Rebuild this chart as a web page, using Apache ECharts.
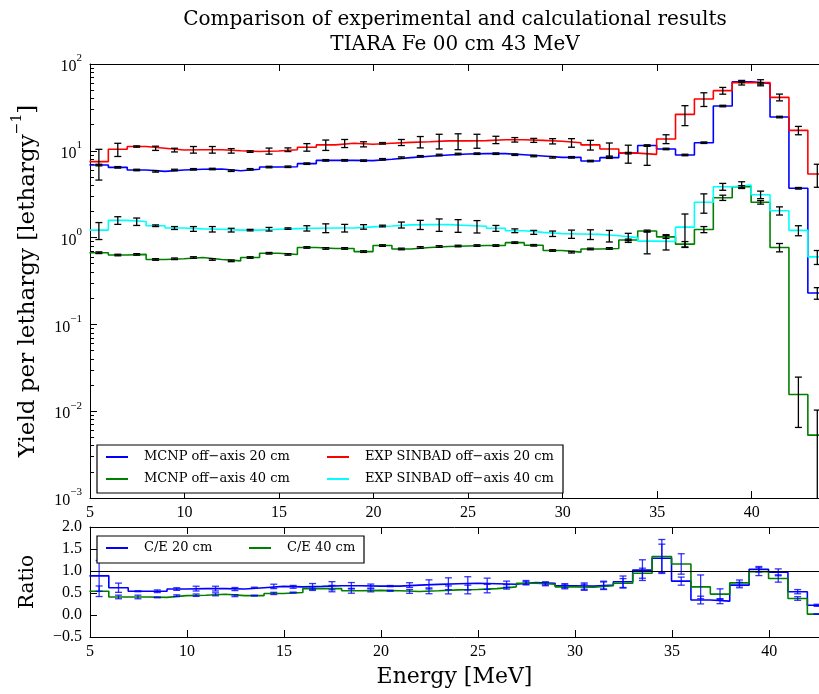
<!DOCTYPE html>
<html>
<head>
<meta charset="utf-8">
<script src="https://cdn.jsdelivr.net/npm/echarts@6/dist/echarts.min.js"></script>
<style>
  html, body { margin: 0; padding: 0; background: #ffffff; }
  #chart { width: 819px; height: 694px; }
</style>
</head>
<body>
<div id="chart"></div>
<script>
// Energy bin edges [MeV]
const energyEdges = [4.97, 5.97, 6.97, 7.97, 8.97, 9.97, 10.97, 11.97, 12.97, 13.97,
  14.97, 15.97, 16.97, 17.97, 18.97, 19.97, 20.97, 21.97, 22.97, 23.97,
  24.97, 25.97, 26.97, 27.97, 28.97, 29.97, 30.97, 31.97, 32.97, 33.97,
  34.97, 35.97, 36.97, 37.97, 38.97, 39.97, 40.97, 41.97, 42.97, 43.97];

// Yield per lethargy, one value per energy bin
const mcnp20 = [6.85, 6.45, 6.01, 5.80, 6.01, 6.12, 6.17, 5.90, 6.12, 6.50, 6.55, 7.11, 7.76,
  7.76, 7.70, 7.98, 8.34, 8.64, 8.95, 9.19, 9.27, 9.27, 9.02, 8.71, 8.41, 8.41,
  7.62, 8.34, 9.40, 11.5, 10.5, 8.95, 12.4, 32.8, 62.5, 59.8, 24.5, 3.70, 0.23];
const mcnp20Err = [0.14, 0.13, 0.12, 0.12, 0.12, 0.12, 0.12, 0.12, 0.12, 0.13, 0.13, 0.14, 0.16,
  0.16, 0.15, 0.16, 0.17, 0.17, 0.18, 0.18, 0.19, 0.19, 0.18, 0.17, 0.17, 0.17,
  0.15, 0.17, 0.19, 0.23, 0.21, 0.18, 0.25, 0.66, 1.25, 1.2, 0.5, 0.08, 0.035];

const mcnp40 = [0.67, 0.63, 0.64, 0.56, 0.57, 0.59, 0.56, 0.54, 0.59, 0.66, 0.64, 0.77, 0.75,
  0.75, 0.69, 0.81, 0.74, 0.77, 0.79, 0.80, 0.81, 0.81, 0.875, 0.815, 0.71, 0.68,
  0.74, 0.75, 0.94, 1.19, 1.02, 0.84, 1.24, 2.88, 3.86, 2.55, 0.77, 0.0156, 0.0053];
const mcnp40Err = [0.015, 0.013, 0.013, 0.012, 0.012, 0.012, 0.012, 0.012, 0.012, 0.014, 0.013, 0.016, 0.016,
  0.016, 0.015, 0.017, 0.016, 0.016, 0.017, 0.017, 0.017, 0.017, 0.018, 0.017, 0.015, 0.015,
  0.016, 0.016, 0.02, 0.03, 0.04, 0.06, 0.1, 0.2, 0.1, 0.12, 0.085, 0.0091, 0.005];

const exp20 = [7.5, 10.4, 11.2, 10.7, 10.2, 10.3, 10.3, 10.0, 9.8, 9.95, 10.3, 11.0, 11.7,
  12.2, 11.9, 12.2, 12.5, 12.7, 13.0, 13.0, 13.1, 13.4, 13.4, 13.2, 12.9, 12.4,
  11.7, 10.5, 9.4, 9.1, 13.7, 26.3, 39.5, 49.3, 61.0, 61.0, 41.3, 17.2, 5.4];
const exp20Err = [2.9, 1.8, 0.2, 0.6, 0.5, 0.9, 0.9, 0.6, 0.2, 0.8, 0.5, 1.1, 1.6,
  1.3, 0.8, 0.25, 1.0, 1.9, 2.5, 2.7, 2.4, 1.3, 0.8, 0.7, 0.9, 1.4,
  1.5, 1.8, 2.2, 2.3, 1.6, 6.8, 7.1, 4.4, 3.7, 4.9, 3.7, 1.9, 1.6];

const exp40 = [1.22, 1.58, 1.53, 1.37, 1.29, 1.26, 1.25, 1.22, 1.22, 1.25, 1.27, 1.28, 1.29,
  1.29, 1.33, 1.36, 1.40, 1.41, 1.41, 1.38, 1.35, 1.28, 1.20, 1.15, 1.11, 1.10,
  1.09, 1.05, 1.00, 0.91, 0.90, 1.32, 2.55, 3.86, 4.04, 3.12, 2.04, 1.21, 0.60];
const exp40Err = [0.27, 0.16, 0.15, 0.03, 0.05, 0.08, 0.09, 0.06, 0.025, 0.06, 0.025, 0.09, 0.15,
  0.13, 0.08, 0.03, 0.11, 0.17, 0.23, 0.23, 0.22, 0.10, 0.06, 0.06, 0.08, 0.12,
  0.14, 0.16, 0.12, 0.26, 0.18, 0.55, 0.64, 0.35, 0.36, 0.31, 0.22, 0.16, 0.11];

// Calculation / experiment ratios (first 38 bins)
const ce20 = [0.89, 0.62, 0.54, 0.54, 0.59, 0.60, 0.60, 0.59, 0.62, 0.65, 0.64, 0.65, 0.665,
  0.665, 0.657, 0.657, 0.68, 0.695, 0.71, 0.72, 0.71, 0.70, 0.74, 0.72, 0.665, 0.657,
  0.68, 0.756, 1.02, 1.29, 0.77, 0.34, 0.315, 0.68, 1.04, 0.97, 0.53, 0.22];
const ce20Err = [0.35, 0.105, 0.011, 0.03, 0.03, 0.054, 0.054, 0.035, 0.012, 0.05, 0.032, 0.065, 0.093,
  0.073, 0.046, 0.013, 0.054, 0.104, 0.135, 0.15, 0.128, 0.07, 0.044, 0.036, 0.047, 0.072,
  0.088, 0.13, 0.235, 0.32, 0.092, 0.088, 0.057, 0.061, 0.062, 0.078, 0.048, 0.024];
const ce40 = [0.54, 0.41, 0.41, 0.40, 0.44, 0.45, 0.47, 0.44, 0.44, 0.49, 0.51, 0.60, 0.60,
  0.55, 0.56, 0.55, 0.535, 0.55, 0.57, 0.58, 0.60, 0.64, 0.72, 0.70, 0.64, 0.63,
  0.665, 0.72, 0.95, 1.33, 1.16, 0.64, 0.475, 0.73, 0.985, 0.83, 0.375, 0.02];
const ce40Err = [0.12, 0.041, 0.041, 0.008, 0.018, 0.027, 0.033, 0.022, 0.009, 0.025, 0.01, 0.042, 0.072,
  0.055, 0.034, 0.011, 0.043, 0.066, 0.091, 0.099, 0.096, 0.051, 0.036, 0.035, 0.045, 0.069,
  0.086, 0.108, 0.114, 0.386, 0.232, 0.27, 0.119, 0.066, 0.089, 0.083, 0.041, 0.003];

// Axis ticks
const energyTicks = [5, 10, 15, 20, 25, 30, 35, 40];
const logMinorTicks = [0.002, 0.003, 0.004, 0.005, 0.006, 0.007, 0.008, 0.009,
  0.02, 0.03, 0.04, 0.05, 0.06, 0.07, 0.08, 0.09,
  0.2, 0.3, 0.4, 0.5, 0.6, 0.7, 0.8, 0.9,
  2, 3, 4, 5, 6, 7, 8, 9,
  20, 30, 40, 50, 60, 70, 80, 90];

const TICK_FONT = "'Liberation Serif', serif";
const TEXT_FONT = "'DejaVu Serif', 'Liberation Serif', serif";

// Histogram outline: a point at every left edge plus the closing right edge
function stepData(vals) {
  const d = vals.map((v, i) => [energyEdges[i], v]);
  d.push([energyEdges[vals.length], vals[vals.length - 1]]);
  return d;
}
// Error bar items at the bin centres: [energy, value, error]
function errData(vals, errs) {
  return vals.map((v, i) => [(energyEdges[i] + energyEdges[i + 1]) / 2, v, errs[i]]);
}
function errorBars(color, floorVal, opacity) {
  return function (params, api) {
    const x = api.value(0), y = api.value(1), e = api.value(2);
    const hi = api.coord([x, y + e]);
    const lo = api.coord([x, Math.max(y - e, floorVal)]);
    const c = 3.5;
    const st = () => ({ stroke: color, lineWidth: 1.3, opacity: opacity });
    return {
      type: 'group',
      children: [
        { type: 'line', shape: { x1: hi[0], y1: hi[1], x2: lo[0], y2: lo[1] }, style: st() },
        { type: 'line', shape: { x1: hi[0] - c, y1: hi[1], x2: hi[0] + c, y2: hi[1] }, style: st() },
        { type: 'line', shape: { x1: lo[0] - c, y1: lo[1], x2: lo[0] + c, y2: lo[1] }, style: st() }
      ]
    };
  };
}

function histLine(name, vals, color, xi, yi) {
  return {
    type: 'line', name: name, xAxisIndex: xi, yAxisIndex: yi,
    data: stepData(vals), step: 'end', symbol: 'none', showSymbol: false,
    lineStyle: { color: color, width: 1.6 }, itemStyle: { color: color },
    clip: true, z: 2
  };
}
function errSeries(vals, errs, color, floorVal, xi, yi, opacity) {
  return {
    type: 'custom', xAxisIndex: xi, yAxisIndex: yi,
    data: errData(vals, errs), encode: { x: 0, y: 1 },
    renderItem: errorBars(color, floorVal, opacity), clip: true, silent: true, z: 4
  };
}

const axisLineStyle = { color: '#000', width: 1 };
const supRich = {
  b: { fontFamily: TICK_FONT, fontSize: 16, color: '#000', lineHeight: 22, verticalAlign: 'bottom' },
  s: { fontFamily: TICK_FONT, fontSize: 11, color: '#000', lineHeight: 11, verticalAlign: 'top' }
};

function energyAxis(grid, pos, max, showLabels, extra) {
  return Object.assign({
    type: 'value', gridIndex: grid, position: pos, min: 5, max: max, interval: 5,
    axisLine: { show: true, onZero: false, lineStyle: axisLineStyle },
    axisTick: { show: true, inside: true, length: 7, lineStyle: axisLineStyle,
      customValues: energyTicks },
    axisLabel: { show: showLabels, margin: 7, customValues: energyTicks,
      fontFamily: TICK_FONT, fontSize: 16, color: '#000' },
    splitLine: { show: false }
  }, extra || {});
}

const legendText = { fontFamily: TEXT_FONT, fontSize: 13, color: '#000', padding: [0, 0, 0, 11], lineHeight: 16 };
function legendBlock(left, top, orient, names) {
  return {
    left: left, top: top, orient: orient, padding: 0, itemGap: 6,
    itemWidth: 22, itemHeight: 2, icon: 'rect', data: names,
    textStyle: legendText, z: 7, selectedMode: false
  };
}

const option = {
  animation: false,
  backgroundColor: '#ffffff',
  grid: [
    { left: 90, top: 64, width: 730, height: 434 },
    { left: 90, top: 527, width: 730, height: 110 }
  ],
  xAxis: [
    energyAxis(0, 'bottom', 43.56, true),
    energyAxis(0, 'top', 43.56, false),
    energyAxis(1, 'bottom', 42.57, true, {
      name: 'Energy [MeV]', nameLocation: 'middle', nameGap: 29,
      nameTextStyle: { fontFamily: TEXT_FONT, fontSize: 22, color: '#000' }
    }),
    energyAxis(1, 'top', 42.57, false)
  ],
  yAxis: [
    {
      type: 'log', logBase: 10, gridIndex: 0, position: 'left', min: 0.001, max: 100,
      axisLine: { show: true, onZero: false, lineStyle: axisLineStyle },
      axisTick: { show: true, inside: true, length: 7, lineStyle: axisLineStyle },
      axisLabel: {
        margin: 8,
        formatter: function (v) {
          const p = Math.round(Math.log10(v));
          return '{b|10}{s|' + String(p).replace('-', '−') + '}';
        },
        rich: supRich
      },
      splitLine: { show: false },
      name: '{m|Yield per lethargy [lethargy}{s|−1}{m|]}', nameLocation: 'middle', nameGap: 50, nameRotate: 90,
      nameTextStyle: {
        fontFamily: TEXT_FONT, fontSize: 23, color: '#000',
        rich: {
          m: { fontFamily: TEXT_FONT, fontSize: 23, color: '#000', lineHeight: 30, verticalAlign: 'bottom' },
          s: { fontFamily: TEXT_FONT, fontSize: 14, color: '#000', lineHeight: 14, verticalAlign: 'top' }
        }
      }
    },
    {
      type: 'log', logBase: 10, gridIndex: 0, position: 'left', offset: 0, min: 0.001, max: 100,
      axisLine: { show: false },
      axisTick: { show: true, inside: true, length: 4, customValues: logMinorTicks, lineStyle: axisLineStyle },
      axisLabel: { show: false },
      splitLine: { show: false }
    },
    {
      type: 'value', gridIndex: 1, position: 'left', min: -0.5, max: 2.0, interval: 0.5,
      axisLine: { show: true, onZero: false, lineStyle: axisLineStyle },
      axisTick: { show: true, inside: true, length: 7, lineStyle: axisLineStyle },
      axisLabel: {
        margin: 8, fontFamily: TICK_FONT, fontSize: 16, color: '#000',
        formatter: function (v) { return v.toFixed(1).replace('-', '−'); }
      },
      splitLine: { show: false },
      name: 'Ratio', nameLocation: 'middle', nameGap: 52, nameRotate: 90,
      nameTextStyle: { fontFamily: TEXT_FONT, fontSize: 20, color: '#000' }
    }
  ],
  legend: [
    legendBlock(106, 449, 'vertical', ['MCNP off−axis 20 cm', 'MCNP off−axis 40 cm']),
    legendBlock(327, 449, 'vertical', ['EXP SINBAD off−axis 20 cm', 'EXP SINBAD off−axis 40 cm']),
    legendBlock(106, 540, 'horizontal', ['C/E 20 cm']),
    legendBlock(249, 540, 'horizontal', ['C/E 40 cm'])
  ],
  graphic: [
    // Two-line chart title, centred over the plotting area
    { type: 'text', z: 8, x: 455, y: 20,
      style: { text: 'Comparison of experimental and calculational results', fill: '#000',
        font: "20px 'DejaVu Serif', serif", textAlign: 'center', textVerticalAlign: 'middle' } },
    { type: 'text', z: 8, x: 455, y: 45,
      style: { text: 'TIARA Fe 00 cm 43 MeV', fill: '#000',
        font: "20px 'DejaVu Serif', serif", textAlign: 'center', textVerticalAlign: 'middle' } },
    // Legend frames
    { type: 'rect', z: 6, shape: { x: 97, y: 445, width: 466, height: 48 },
      style: { fill: '#ffffff', stroke: '#000', lineWidth: 1.2 } },
    { type: 'rect', z: 6, shape: { x: 97, y: 536, width: 267, height: 27 },
      style: { fill: '#ffffff', stroke: '#000', lineWidth: 1.2 } }
  ],
  series: [
    histLine('MCNP off−axis 20 cm', mcnp20, '#0000ff', 0, 0),
    histLine('MCNP off−axis 40 cm', mcnp40, '#008000', 0, 0),
    histLine('EXP SINBAD off−axis 20 cm', exp20, '#ff0000', 0, 0),
    histLine('EXP SINBAD off−axis 40 cm', exp40, '#00ffff', 0, 0),
    errSeries(mcnp20, mcnp20Err, '#000000', 1e-6, 0, 0, 1),
    errSeries(mcnp40, mcnp40Err, '#000000', 1e-6, 0, 0, 1),
    errSeries(exp20, exp20Err, '#000000', 1e-6, 0, 0, 1),
    errSeries(exp40, exp40Err, '#000000', 1e-6, 0, 0, 1),
    Object.assign(histLine('C/E 20 cm', ce20, '#0000ff', 2, 2), {
      markLine: {
        silent: true, symbol: 'none', label: { show: false },
        lineStyle: { color: '#000', width: 1.2, type: 'solid' },
        data: [{ yAxis: 1 }]
      }
    }),
    histLine('C/E 40 cm', ce40, '#008000', 2, 2),
    errSeries(ce20, ce20Err, '#0000ff', -10, 2, 2, 0.8),
    errSeries(ce40, ce40Err, '#0000ff', -10, 2, 2, 0.8)
  ]
};

const chart = echarts.init(document.getElementById('chart'), null, { renderer: 'canvas' });
chart.setOption(option);
</script>
</body>
</html>
